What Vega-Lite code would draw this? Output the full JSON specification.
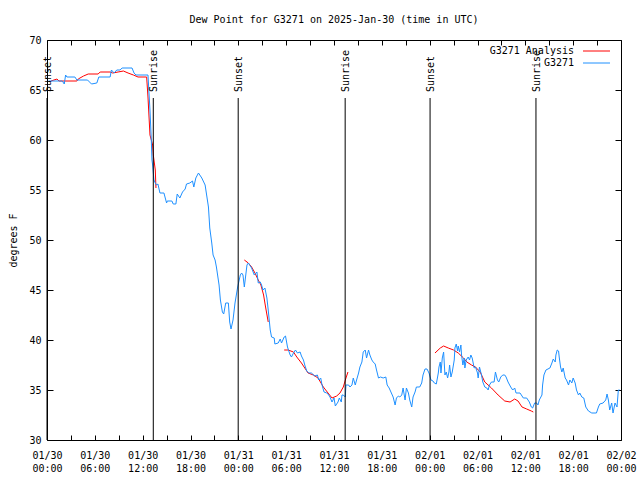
{
  "$schema": "https://vega.github.io/schema/vega-lite/v6.json",
  "width": 574,
  "height": 400,
  "autosize": {"type": "none"},
  "padding": {"left": 47, "top": 40, "right": 19, "bottom": 40},
  "background": "white",
  "title": {"text": "Dew Point for G3271 on 2025-Jan-30 (time in UTC)", "font": "DejaVu Sans Mono", "fontSize": 10, "fontWeight": "normal", "color": "black", "offset": 10},
  "config": {
    "view": {"stroke": "black", "strokeWidth": 1},
    "font": "DejaVu Sans Mono",
    "axis": {"labelFont": "DejaVu Sans Mono", "labelFontSize": 10, "labelColor": "black", "titleFont": "DejaVu Sans Mono", "titleFontSize": 10, "titleFontWeight": "normal", "titleColor": "black", "tickColor": "black", "domain": false, "grid": false}
  },
  "datasets": {
    "ana": [
      {"t":"2025-01-30T00:30Z","v":65.9,"g":"a1"},{"t":"2025-01-30T01:15Z","v":66.1,"g":"a1"},{"t":"2025-01-30T01:30Z","v":65.9,"g":"a1"},{"t":"2025-01-30T03:45Z","v":65.9,"g":"a1"},{"t":"2025-01-30T03:55Z","v":66.1,"g":"a1"},{"t":"2025-01-30T04:35Z","v":66.4,"g":"a1"},{"t":"2025-01-30T05:10Z","v":66.6,"g":"a1"},{"t":"2025-01-30T06:25Z","v":66.6,"g":"a1"},{"t":"2025-01-30T06:40Z","v":66.8,"g":"a1"},{"t":"2025-01-30T07:55Z","v":66.8,"g":"a1"},{"t":"2025-01-30T08:15Z","v":66.7,"g":"a1"},{"t":"2025-01-30T08:55Z","v":66.8,"g":"a1"},{"t":"2025-01-30T09:35Z","v":66.9,"g":"a1"},{"t":"2025-01-30T10:10Z","v":66.7,"g":"a1"},{"t":"2025-01-30T10:50Z","v":66.5,"g":"a1"},{"t":"2025-01-30T11:25Z","v":66.3,"g":"a1"},{"t":"2025-01-30T12:30Z","v":66.3,"g":"a1"},{"t":"2025-01-30T12:40Z","v":64.3,"g":"a1"},{"t":"2025-01-30T12:55Z","v":60.5,"g":"a1"},{"t":"2025-01-30T13:15Z","v":59.5,"g":"a1"},{"t":"2025-01-30T13:20Z","v":58.5,"g":"a1"},{"t":"2025-01-30T13:35Z","v":57.0,"g":"a1"},{"t":"2025-01-30T13:40Z","v":55.2,"g":"a1"},
      {"t":"2025-01-31T00:45Z","v":48.0,"g":"a2"},{"t":"2025-01-31T01:15Z","v":47.7,"g":"a2"},{"t":"2025-01-31T01:40Z","v":47.3,"g":"a2"},{"t":"2025-01-31T02:05Z","v":46.7,"g":"a2"},{"t":"2025-01-31T02:30Z","v":46.0,"g":"a2"},{"t":"2025-01-31T02:50Z","v":45.5,"g":"a2"},{"t":"2025-01-31T03:10Z","v":44.5,"g":"a2"},{"t":"2025-01-31T03:25Z","v":43.3,"g":"a2"},{"t":"2025-01-31T03:45Z","v":41.8,"g":"a2"},
      {"t":"2025-01-31T05:45Z","v":39.0,"g":"a3"},{"t":"2025-01-31T06:15Z","v":39.0,"g":"a3"},{"t":"2025-01-31T06:55Z","v":38.8,"g":"a3"},{"t":"2025-01-31T07:20Z","v":38.3,"g":"a3"},{"t":"2025-01-31T07:55Z","v":37.7,"g":"a3"},{"t":"2025-01-31T08:20Z","v":37.2,"g":"a3"},{"t":"2025-01-31T08:45Z","v":36.7,"g":"a3"},{"t":"2025-01-31T09:25Z","v":36.5,"g":"a3"},{"t":"2025-01-31T10:00Z","v":36.2,"g":"a3"},{"t":"2025-01-31T10:40Z","v":35.3,"g":"a3"},{"t":"2025-01-31T11:15Z","v":34.7,"g":"a3"},{"t":"2025-01-31T11:45Z","v":34.2,"g":"a3"},{"t":"2025-01-31T12:20Z","v":34.4,"g":"a3"},{"t":"2025-01-31T12:45Z","v":34.7,"g":"a3"},{"t":"2025-01-31T13:10Z","v":35.3,"g":"a3"},{"t":"2025-01-31T13:30Z","v":36.2,"g":"a3"},{"t":"2025-01-31T13:45Z","v":36.8,"g":"a3"},
      {"t":"2025-02-01T00:40Z","v":38.7,"g":"a4"},{"t":"2025-02-01T01:20Z","v":39.2,"g":"a4"},{"t":"2025-02-01T01:45Z","v":39.4,"g":"a4"},{"t":"2025-02-01T02:20Z","v":39.2,"g":"a4"},{"t":"2025-02-01T03:00Z","v":39.0,"g":"a4"},{"t":"2025-02-01T03:35Z","v":38.7,"g":"a4"},{"t":"2025-02-01T04:15Z","v":38.2,"g":"a4"},{"t":"2025-02-01T04:40Z","v":37.8,"g":"a4"},{"t":"2025-02-01T05:15Z","v":37.5,"g":"a4"},{"t":"2025-02-01T05:45Z","v":37.3,"g":"a4"},{"t":"2025-02-01T06:20Z","v":36.8,"g":"a4"},{"t":"2025-02-01T06:55Z","v":35.8,"g":"a4"},{"t":"2025-02-01T07:45Z","v":35.2,"g":"a4"},{"t":"2025-02-01T08:35Z","v":34.5,"g":"a4"},{"t":"2025-02-01T09:25Z","v":33.9,"g":"a4"},{"t":"2025-02-01T10:05Z","v":33.8,"g":"a4"},{"t":"2025-02-01T10:40Z","v":34.1,"g":"a4"},{"t":"2025-02-01T11:05Z","v":33.9,"g":"a4"},{"t":"2025-02-01T11:35Z","v":33.3,"g":"a4"},{"t":"2025-02-01T12:10Z","v":33.1,"g":"a4"},{"t":"2025-02-01T12:45Z","v":32.9,"g":"a4"},{"t":"2025-02-01T13:00Z","v":32.8,"g":"a4"}
    ],
    "obs": [
      {"t":"2025-01-30T00:10Z","v":65.9},{"t":"2025-01-30T01:55Z","v":65.9},{"t":"2025-01-30T02:10Z","v":65.6},{"t":"2025-01-30T02:20Z","v":66.5},{"t":"2025-01-30T02:30Z","v":66.3},{"t":"2025-01-30T03:30Z","v":66.3},{"t":"2025-01-30T03:45Z","v":66.0},{"t":"2025-01-30T05:05Z","v":66.0},{"t":"2025-01-30T05:35Z","v":65.6},{"t":"2025-01-30T06:15Z","v":65.7},{"t":"2025-01-30T06:30Z","v":66.3},{"t":"2025-01-30T07:55Z","v":66.3},{"t":"2025-01-30T08:05Z","v":67.0},{"t":"2025-01-30T08:25Z","v":66.7},{"t":"2025-01-30T08:45Z","v":67.0},{"t":"2025-01-30T09:10Z","v":67.0},{"t":"2025-01-30T09:25Z","v":67.2},{"t":"2025-01-30T10:40Z","v":67.2},{"t":"2025-01-30T10:55Z","v":66.7},{"t":"2025-01-30T11:10Z","v":66.5},{"t":"2025-01-30T12:40Z","v":66.5},{"t":"2025-01-30T12:55Z","v":63.0},{"t":"2025-01-30T13:05Z","v":60.0},{"t":"2025-01-30T13:10Z","v":58.0},{"t":"2025-01-30T13:15Z","v":57.5},{"t":"2025-01-30T13:25Z","v":56.0},{"t":"2025-01-30T13:35Z","v":55.7},{"t":"2025-01-30T13:45Z","v":55.5},{"t":"2025-01-30T13:55Z","v":55.6},{"t":"2025-01-30T14:10Z","v":54.7},{"t":"2025-01-30T14:40Z","v":54.7},{"t":"2025-01-30T15:00Z","v":53.7},{"t":"2025-01-30T15:05Z","v":53.9},{"t":"2025-01-30T15:40Z","v":53.9},{"t":"2025-01-30T15:50Z","v":53.6},{"t":"2025-01-30T16:10Z","v":53.6},{"t":"2025-01-30T16:20Z","v":54.6},{"t":"2025-01-30T16:40Z","v":54.2},{"t":"2025-01-30T17:00Z","v":54.8},{"t":"2025-01-30T17:20Z","v":55.1},{"t":"2025-01-30T17:30Z","v":55.6},{"t":"2025-01-30T17:55Z","v":55.7},{"t":"2025-01-30T18:15Z","v":55.9},{"t":"2025-01-30T18:25Z","v":55.3},{"t":"2025-01-30T18:40Z","v":56.2},{"t":"2025-01-30T19:00Z","v":56.7},{"t":"2025-01-30T19:25Z","v":56.2},{"t":"2025-01-30T19:50Z","v":55.5},{"t":"2025-01-30T20:15Z","v":53.3},{"t":"2025-01-30T20:25Z","v":51.2},{"t":"2025-01-30T20:40Z","v":49.7},{"t":"2025-01-30T20:50Z","v":48.5},{"t":"2025-01-30T21:05Z","v":48.0},{"t":"2025-01-30T21:15Z","v":47.3},{"t":"2025-01-30T21:35Z","v":45.5},{"t":"2025-01-30T21:45Z","v":44.0},{"t":"2025-01-30T22:00Z","v":42.8},{"t":"2025-01-30T22:10Z","v":42.6},{"t":"2025-01-30T22:25Z","v":43.7},{"t":"2025-01-30T22:45Z","v":43.7},{"t":"2025-01-30T22:55Z","v":41.8},{"t":"2025-01-30T23:05Z","v":41.1},{"t":"2025-01-30T23:20Z","v":42.0},{"t":"2025-01-30T23:35Z","v":43.7},{"t":"2025-01-30T23:55Z","v":45.3},
      {"t":"2025-01-31T00:15Z","v":46.5},{"t":"2025-01-31T00:25Z","v":46.7},{"t":"2025-01-31T00:35Z","v":46.5},{"t":"2025-01-31T00:45Z","v":45.3},{"t":"2025-01-31T01:05Z","v":47.5},{"t":"2025-01-31T01:15Z","v":47.7},{"t":"2025-01-31T01:40Z","v":47.2},{"t":"2025-01-31T02:00Z","v":46.5},{"t":"2025-01-31T02:20Z","v":46.8},{"t":"2025-01-31T02:30Z","v":45.7},{"t":"2025-01-31T02:45Z","v":45.8},{"t":"2025-01-31T02:55Z","v":45.5},{"t":"2025-01-31T03:05Z","v":45.0},{"t":"2025-01-31T03:20Z","v":45.2},{"t":"2025-01-31T03:35Z","v":44.2},{"t":"2025-01-31T03:45Z","v":43.0},{"t":"2025-01-31T04:00Z","v":41.0},{"t":"2025-01-31T04:10Z","v":40.3},{"t":"2025-01-31T04:30Z","v":40.2},{"t":"2025-01-31T04:35Z","v":39.6},{"t":"2025-01-31T05:00Z","v":39.7},{"t":"2025-01-31T05:15Z","v":40.1},{"t":"2025-01-31T05:25Z","v":39.7},{"t":"2025-01-31T05:45Z","v":40.3},{"t":"2025-01-31T05:55Z","v":40.4},{"t":"2025-01-31T06:10Z","v":39.3},{"t":"2025-01-31T06:30Z","v":38.5},{"t":"2025-01-31T06:40Z","v":38.3},{"t":"2025-01-31T06:55Z","v":38.7},{"t":"2025-01-31T07:10Z","v":39.0},{"t":"2025-01-31T07:25Z","v":38.7},{"t":"2025-01-31T07:45Z","v":38.8},{"t":"2025-01-31T07:55Z","v":38.4},{"t":"2025-01-31T08:10Z","v":38.0},{"t":"2025-01-31T08:20Z","v":37.5},{"t":"2025-01-31T08:35Z","v":36.9},{"t":"2025-01-31T08:50Z","v":36.7},{"t":"2025-01-31T09:10Z","v":36.7},{"t":"2025-01-31T09:35Z","v":36.4},{"t":"2025-01-31T09:55Z","v":36.5},{"t":"2025-01-31T10:05Z","v":36.0},{"t":"2025-01-31T10:20Z","v":36.2},{"t":"2025-01-31T10:30Z","v":35.5},{"t":"2025-01-31T10:45Z","v":34.8},{"t":"2025-01-31T11:05Z","v":34.7},{"t":"2025-01-31T11:15Z","v":34.6},{"t":"2025-01-31T11:30Z","v":34.3},{"t":"2025-01-31T11:45Z","v":33.8},{"t":"2025-01-31T12:00Z","v":34.2},{"t":"2025-01-31T12:10Z","v":33.4},{"t":"2025-01-31T12:30Z","v":33.8},{"t":"2025-01-31T12:40Z","v":34.2},{"t":"2025-01-31T12:55Z","v":33.8},{"t":"2025-01-31T13:00Z","v":34.5},{"t":"2025-01-31T13:10Z","v":34.5},{"t":"2025-01-31T13:25Z","v":34.3},{"t":"2025-01-31T13:30Z","v":35.5},{"t":"2025-01-31T13:50Z","v":35.5},{"t":"2025-01-31T14:00Z","v":35.3},{"t":"2025-01-31T14:15Z","v":35.5},{"t":"2025-01-31T14:25Z","v":36.2},{"t":"2025-01-31T14:40Z","v":35.5},{"t":"2025-01-31T14:50Z","v":36.0},{"t":"2025-01-31T15:05Z","v":36.7},{"t":"2025-01-31T15:15Z","v":37.3},{"t":"2025-01-31T15:30Z","v":37.8},{"t":"2025-01-31T15:40Z","v":38.8},{"t":"2025-01-31T15:55Z","v":39.0},{"t":"2025-01-31T16:05Z","v":38.2},{"t":"2025-01-31T16:20Z","v":39.0},{"t":"2025-01-31T16:30Z","v":38.5},{"t":"2025-01-31T16:45Z","v":38.0},{"t":"2025-01-31T16:55Z","v":37.8},{"t":"2025-01-31T17:10Z","v":37.6},{"t":"2025-01-31T17:20Z","v":37.0},{"t":"2025-01-31T17:35Z","v":36.2},{"t":"2025-01-31T17:50Z","v":36.3},{"t":"2025-01-31T18:10Z","v":36.2},{"t":"2025-01-31T18:30Z","v":36.3},{"t":"2025-01-31T18:40Z","v":35.5},{"t":"2025-01-31T18:55Z","v":35.2},{"t":"2025-01-31T19:15Z","v":34.6},{"t":"2025-01-31T19:25Z","v":34.3},{"t":"2025-01-31T19:40Z","v":33.5},{"t":"2025-01-31T19:50Z","v":34.2},{"t":"2025-01-31T20:05Z","v":34.4},{"t":"2025-01-31T20:15Z","v":34.3},{"t":"2025-01-31T20:30Z","v":34.5},{"t":"2025-01-31T20:40Z","v":35.2},{"t":"2025-01-31T20:55Z","v":34.0},{"t":"2025-01-31T21:05Z","v":35.2},{"t":"2025-01-31T21:20Z","v":34.7},{"t":"2025-01-31T21:30Z","v":34.0},{"t":"2025-01-31T21:45Z","v":33.3},{"t":"2025-01-31T21:55Z","v":34.3},{"t":"2025-01-31T22:10Z","v":34.8},{"t":"2025-01-31T22:20Z","v":35.3},{"t":"2025-01-31T22:45Z","v":35.3},{"t":"2025-01-31T23:00Z","v":35.7},{"t":"2025-01-31T23:10Z","v":36.5},{"t":"2025-01-31T23:25Z","v":37.1},{"t":"2025-01-31T23:40Z","v":37.1},{"t":"2025-01-31T23:55Z","v":36.7},
      {"t":"2025-02-01T00:10Z","v":36.0},{"t":"2025-02-01T00:25Z","v":35.9},{"t":"2025-02-01T00:35Z","v":35.7},{"t":"2025-02-01T00:50Z","v":35.6},{"t":"2025-02-01T01:05Z","v":36.7},{"t":"2025-02-01T01:10Z","v":37.3},{"t":"2025-02-01T01:20Z","v":37.8},{"t":"2025-02-01T01:25Z","v":36.7},{"t":"2025-02-01T01:35Z","v":38.2},{"t":"2025-02-01T01:45Z","v":38.8},{"t":"2025-02-01T01:55Z","v":36.5},{"t":"2025-02-01T02:05Z","v":36.8},{"t":"2025-02-01T02:15Z","v":36.2},{"t":"2025-02-01T02:25Z","v":36.8},{"t":"2025-02-01T02:30Z","v":37.5},{"t":"2025-02-01T02:40Z","v":36.3},{"t":"2025-02-01T02:50Z","v":36.8},{"t":"2025-02-01T03:05Z","v":38.0},{"t":"2025-02-01T03:10Z","v":39.2},{"t":"2025-02-01T03:20Z","v":39.6},{"t":"2025-02-01T03:30Z","v":38.9},{"t":"2025-02-01T03:35Z","v":39.4},{"t":"2025-02-01T03:45Z","v":38.8},{"t":"2025-02-01T03:55Z","v":39.5},{"t":"2025-02-01T04:00Z","v":38.5},{"t":"2025-02-01T04:10Z","v":37.5},{"t":"2025-02-01T04:20Z","v":38.2},{"t":"2025-02-01T04:25Z","v":37.2},{"t":"2025-02-01T04:35Z","v":38.0},{"t":"2025-02-01T04:50Z","v":38.3},{"t":"2025-02-01T05:00Z","v":38.0},{"t":"2025-02-01T05:10Z","v":38.5},{"t":"2025-02-01T05:20Z","v":38.2},{"t":"2025-02-01T05:35Z","v":37.2},{"t":"2025-02-01T05:45Z","v":37.3},{"t":"2025-02-01T06:00Z","v":36.7},{"t":"2025-02-01T06:05Z","v":36.2},{"t":"2025-02-01T06:15Z","v":37.3},{"t":"2025-02-01T06:30Z","v":36.5},{"t":"2025-02-01T06:40Z","v":35.8},{"t":"2025-02-01T06:55Z","v":35.3},{"t":"2025-02-01T07:10Z","v":35.2},{"t":"2025-02-01T07:20Z","v":35.0},{"t":"2025-02-01T07:30Z","v":35.5},{"t":"2025-02-01T07:45Z","v":35.8},{"t":"2025-02-01T08:05Z","v":35.8},{"t":"2025-02-01T08:15Z","v":36.8},{"t":"2025-02-01T08:30Z","v":36.0},{"t":"2025-02-01T08:40Z","v":35.8},{"t":"2025-02-01T08:55Z","v":36.3},{"t":"2025-02-01T09:10Z","v":36.5},{"t":"2025-02-01T09:25Z","v":36.5},{"t":"2025-02-01T09:35Z","v":36.3},{"t":"2025-02-01T09:50Z","v":35.8},{"t":"2025-02-01T10:10Z","v":35.3},{"t":"2025-02-01T10:25Z","v":35.0},{"t":"2025-02-01T10:40Z","v":35.2},{"t":"2025-02-01T10:50Z","v":34.7},{"t":"2025-02-01T11:20Z","v":34.7},{"t":"2025-02-01T11:45Z","v":34.2},{"t":"2025-02-01T12:10Z","v":34.2},{"t":"2025-02-01T12:30Z","v":33.8},{"t":"2025-02-01T12:45Z","v":33.3},{"t":"2025-02-01T12:55Z","v":33.2},{"t":"2025-02-01T13:10Z","v":33.7},{"t":"2025-02-01T13:25Z","v":33.7},{"t":"2025-02-01T13:35Z","v":33.5},{"t":"2025-02-01T13:45Z","v":34.0},{"t":"2025-02-01T14:05Z","v":34.5},{"t":"2025-02-01T14:10Z","v":35.5},{"t":"2025-02-01T14:20Z","v":36.5},{"t":"2025-02-01T14:35Z","v":37.0},{"t":"2025-02-01T15:05Z","v":37.2},{"t":"2025-02-01T15:20Z","v":37.7},{"t":"2025-02-01T15:30Z","v":38.1},{"t":"2025-02-01T15:45Z","v":37.8},{"t":"2025-02-01T15:50Z","v":38.5},{"t":"2025-02-01T16:00Z","v":39.0},{"t":"2025-02-01T16:10Z","v":38.9},{"t":"2025-02-01T16:15Z","v":38.3},{"t":"2025-02-01T16:25Z","v":37.3},{"t":"2025-02-01T16:35Z","v":36.8},{"t":"2025-02-01T16:45Z","v":37.2},{"t":"2025-02-01T17:00Z","v":36.2},{"t":"2025-02-01T17:10Z","v":36.0},{"t":"2025-02-01T17:25Z","v":35.5},{"t":"2025-02-01T17:35Z","v":36.0},{"t":"2025-02-01T17:50Z","v":35.7},{"t":"2025-02-01T18:00Z","v":36.2},{"t":"2025-02-01T18:15Z","v":35.7},{"t":"2025-02-01T18:25Z","v":35.0},{"t":"2025-02-01T18:40Z","v":34.5},{"t":"2025-02-01T18:50Z","v":34.7},{"t":"2025-02-01T19:05Z","v":34.3},{"t":"2025-02-01T19:20Z","v":34.2},{"t":"2025-02-01T19:35Z","v":33.3},{"t":"2025-02-01T19:55Z","v":32.9},{"t":"2025-02-01T20:20Z","v":32.7},{"t":"2025-02-01T20:55Z","v":32.7},{"t":"2025-02-01T21:10Z","v":33.3},{"t":"2025-02-01T21:20Z","v":33.6},{"t":"2025-02-01T21:45Z","v":33.7},{"t":"2025-02-01T22:05Z","v":34.0},{"t":"2025-02-01T22:15Z","v":34.6},{"t":"2025-02-01T22:25Z","v":34.0},{"t":"2025-02-01T22:35Z","v":33.0},{"t":"2025-02-01T22:50Z","v":33.7},{"t":"2025-02-01T23:00Z","v":32.7},{"t":"2025-02-01T23:15Z","v":33.7},{"t":"2025-02-01T23:30Z","v":33.3},{"t":"2025-02-01T23:40Z","v":35.0},{"t":"2025-02-01T23:50Z","v":35.0}
    ],
    "sun": [
      {"t":"2025-01-30T00:00Z","e":"Sunset"},
      {"t":"2025-01-30T13:20Z","e":"Sunrise"},
      {"t":"2025-01-30T23:59Z","e":"Sunset"},
      {"t":"2025-01-31T13:24Z","e":"Sunrise"},
      {"t":"2025-02-01T00:03Z","e":"Sunset"},
      {"t":"2025-02-01T13:20Z","e":"Sunrise"}
    ]
  },
  "resolve": {"axis": {"x": "independent", "y": "independent"}},
  "layer": [
    {
      "data": {"name": "ana"},
      "mark": {"type": "line", "strokeWidth": 1},
      "encoding": {
        "x": {"field": "t", "type": "temporal",
              "scale": {"type": "utc", "domain": [{"year": 2025, "month": 1, "date": 30, "utc": true}, {"year": 2025, "month": 2, "date": 2, "utc": true}], "nice": false},
              "axis": {"orient": "bottom", "title": null, "tickCount": 36, "tickSize": -5, "labelPadding": 15, "labelOverlap": false, "labelFlush": false, "labelBound": false, "labelLineHeight": 13,
                       "labelExpr": "utchours(datum.value) % 6 == 0 ? [utcFormat(datum.value, '%m/%d'), utcFormat(datum.value, '%H:%M')] : ''"}},
        "y": {"field": "v", "type": "quantitative",
              "scale": {"domain": [30, 70], "nice": false, "zero": false},
              "axis": {"orient": "left", "title": "degrees F", "values": [30, 35, 40, 45, 50, 55, 60, 65, 70], "tickSize": -6, "labelPadding": 12, "titlePadding": 10}},
        "detail": {"field": "g", "type": "nominal"},
        "color": {"datum": "G3271 Analysis", "type": "nominal",
                  "scale": {"domain": ["G3271 Analysis", "G3271"], "range": ["#ff0000", "#1e90ff"]},
                  "legend": {"orient": "none", "legendX": 544.5, "legendY": 6, "title": null, "padding": 0, "rowPadding": 2,
                             "symbolType": "M-13.5,0H13.5", "symbolSize": 4, "symbolStrokeWidth": 1, "symbolFillColor": "transparent",
                             "labelAlign": "right", "labelOffset": -27.5,
                             "labelFont": "DejaVu Sans Mono", "labelFontSize": 10, "labelColor": "black"}}
      }
    },
    {
      "data": {"name": "obs"},
      "mark": {"type": "line", "strokeWidth": 1},
      "encoding": {
        "x": {"field": "t", "type": "temporal", "axis": null},
        "y": {"field": "v", "type": "quantitative", "axis": null},
        "color": {"datum": "G3271", "type": "nominal"}
      }
    },
    {
      "data": {"name": "sun"},
      "mark": {"type": "rule", "color": "black", "strokeWidth": 1},
      "encoding": {
        "x": {"field": "t", "type": "temporal",
              "axis": {"orient": "top", "title": null, "labels": false, "tickCount": 36, "tickSize": -5}},
        "y": {"datum": 64.2, "type": "quantitative",
              "axis": {"orient": "right", "title": null, "labels": false, "values": [30, 35, 40, 45, 50, 55, 60, 65, 70], "tickSize": -6}},
        "y2": {"datum": 30}
      }
    },
    {
      "data": {"name": "sun"},
      "mark": {"type": "text", "angle": 270, "align": "left", "baseline": "middle", "dy": 1, "font": "DejaVu Sans Mono", "fontSize": 10, "color": "black"},
      "encoding": {
        "x": {"field": "t", "type": "temporal", "axis": null},
        "y": {"datum": 64.8, "type": "quantitative", "axis": null},
        "text": {"field": "e", "type": "nominal"}
      }
    }
  ]
}
